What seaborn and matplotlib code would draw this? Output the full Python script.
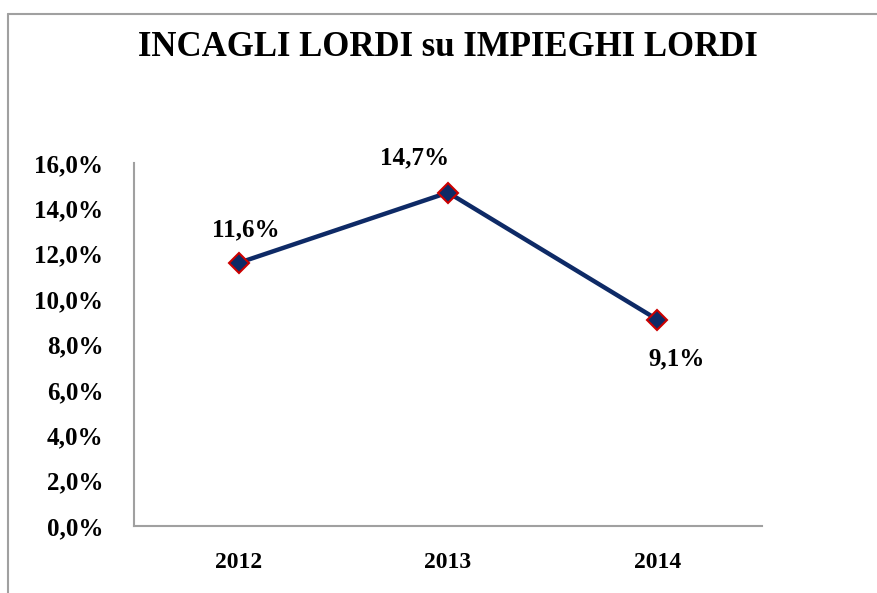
import matplotlib
matplotlib.use("Agg")
import matplotlib.pyplot as plt
from matplotlib.lines import Line2D
import pandas as pd
import seaborn as sns

# chart data
years = ["2012", "2013", "2014"]
ratio = [11.6, 14.7, 9.1]
value_labels = ["11,6%", "14,7%", "9,1%"]
y_ticks = [0, 2, 4, 6, 8, 10, 12, 14, 16]
y_tick_labels = ["0,0%", "2,0%", "4,0%", "6,0%", "8,0%", "10,0%", "12,0%", "14,0%", "16,0%"]
title = "INCAGLI LORDI su IMPIEGHI LORDI"

df = pd.DataFrame({"anno": years, "ratio": ratio})

sns.set_style("white")
plt.rcParams["font.family"] = ["Liberation Serif", "DejaVu Serif"]
plt.rcParams["font.weight"] = "bold"
plt.rcParams["text.color"] = "black"
plt.rcParams["xtick.color"] = "black"
plt.rcParams["ytick.color"] = "black"

fig = plt.figure(figsize=(8.78, 5.93), dpi=100)
ax = fig.add_axes([0.1526, 0.113, 0.7153, 0.612])

sns.lineplot(data=df, x="anno", y="ratio", ax=ax, sort=False,
             color="#0E2A66", linewidth=3.2, marker="D", markersize=10,
             markerfacecolor="#0E2A66", markeredgecolor="#CC0000",
             markeredgewidth=1.5)

# value labels next to the points
offsets = [(5, 24), (-24, 25), (14, -28)]
for i, (lab, off) in enumerate(zip(value_labels, offsets)):
    ax.annotate(lab, (i, ratio[i]), xytext=off, textcoords="offset points",
                ha="center", va="center", fontsize=18, fontweight="bold")

ax.set_xlim(-0.5, 2.5)
ax.set_ylim(0, 16)
ax.set_yticks(y_ticks)
ax.set_yticklabels(y_tick_labels)
ax.set_xlabel("")
ax.set_ylabel("")
ax.tick_params(axis="both", length=0)
ax.tick_params(axis="y", pad=22, labelsize=18)
ax.tick_params(axis="x", pad=19, labelsize=17)
for t in ax.get_xticklabels() + ax.get_yticklabels():
    t.set_fontweight("bold")

for side in ["top", "right"]:
    ax.spines[side].set_visible(False)
for side in ["left", "bottom"]:
    ax.spines[side].set_color("#A0A0A0")
    ax.spines[side].set_linewidth(1.5)

fig.text(0.51, 0.92, title, ha="center", va="center", fontsize=25,
         fontweight="bold")

# chart area border (left and top edges visible)
fig.add_artist(Line2D([0.009, 0.009], [0, 0.976], transform=fig.transFigure,
                      color="#A0A0A0", linewidth=1.5))
fig.add_artist(Line2D([0.009, 1.0], [0.976, 0.976], transform=fig.transFigure,
                      color="#A0A0A0", linewidth=1.5))

fig.savefig("out.png", dpi=100)
